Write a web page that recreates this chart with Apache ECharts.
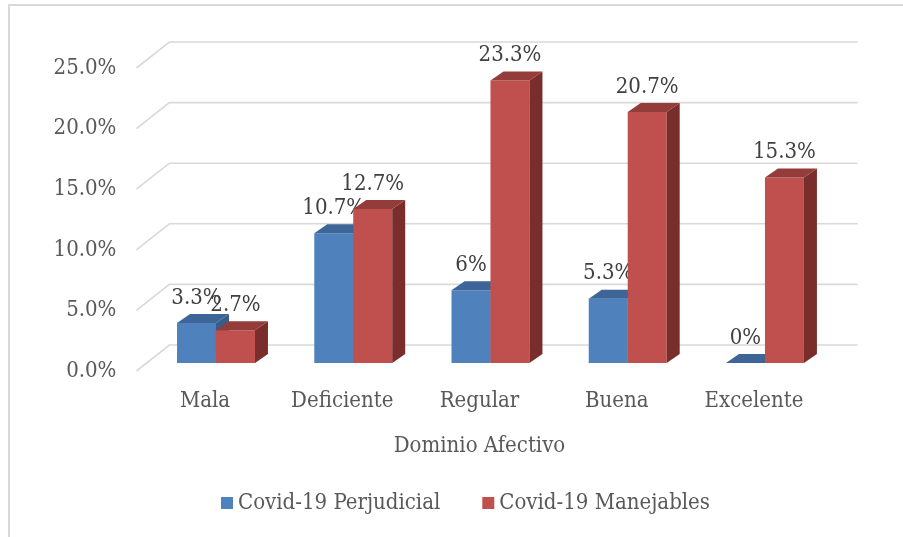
<!DOCTYPE html>
<html>
<head>
<meta charset="utf-8">
<script src="https://cdn.jsdelivr.net/npm/echarts@6/dist/echarts.min.js"></script>
<style>html,body{margin:0;padding:0;background:#fff}#c{width:903px;height:537px}</style>
</head>
<body>
<div id="c"></div>
<script>
const categories = ['Mala', 'Deficiente', 'Regular', 'Buena', 'Excelente'];
const perjudicial = [3.3, 10.7, 6, 5.3, 0];
const manejables = [2.7, 12.7, 23.3, 20.7, 15.3];
const yTicks = [0, 5, 10, 15, 20, 25];
const seriesNames = ['Covid-19 Perjudicial', 'Covid-19 Manejables'];

const FONT = '"DejaVu Serif Condensed", "DejaVu Serif", serif';
const FS = 22;
const colors = [
  { front: '#4F81BD', top: '#3D6597', side: '#385D8A' },
  { front: '#C0504D', top: '#933C3A', side: '#7A2E2C' }
];
const DX = 13, DY = -9, LIFT = 8;

function barRender(idx) {
  return function (params, api) {
    const bw = api.size([1, 0])[0];
    const barW = bw * 0.284;
    const base = api.coord([api.value(0), 0]);
    const topP = api.coord([api.value(0), api.value(1)]);
    const cx = base[0] + bw * 0.08;
    const left = idx === 0 ? cx - barW : cx;
    const right = left + barW;
    const by = base[1] - LIFT;
    const ty = topP[1] - LIFT;
    const c = colors[idx];
    const children = [];
    if (by - ty > 0.5) {
      children.push({ type: 'rect', shape: { x: left, y: ty, width: barW, height: by - ty }, style: { fill: c.front } });
      children.push({ type: 'polygon', shape: { points: [[right, ty], [right + DX, ty + DY], [right + DX, by + DY], [right, by]] }, style: { fill: c.side } });
    }
    children.push({ type: 'polygon', shape: { points: [[left, ty], [left + DX, ty + DY], [right + DX, ty + DY], [right, ty]] }, style: { fill: c.top } });
    children.push({ type: 'text', x: (left + right) / 2, y: ty - 25, style: { text: api.value(1) + '%', fill: '#404040', font: FS + 'px ' + FONT, align: 'center', verticalAlign: 'middle' } });
    return { type: 'group', children: children };
  };
}

const chart = echarts.init(document.getElementById('c'), null, { renderer: 'canvas' });
chart.setOption({
  backgroundColor: '#fff',
  animation: false,
  textStyle: { fontFamily: FONT },
  graphic: [{ type: 'rect', shape: { x: 9, y: 5, width: 1000, height: 1000 }, style: { fill: 'none', stroke: '#d9d9d9', lineWidth: 2 }, silent: true }],
  grid: { left: 136.4, right: 80.4, top: 68, bottom: 166, containLabel: false },
  xAxis: {
    type: 'category', data: categories,
    axisLine: { show: false }, axisTick: { show: false }, splitLine: { show: false },
    axisLabel: { color: '#595959', fontSize: FS, fontFamily: FONT, margin: 19 },
    name: 'Dominio Afectivo', nameLocation: 'middle', nameGap: 64,
    nameTextStyle: { color: '#595959', fontSize: FS, fontFamily: FONT }
  },
  yAxis: {
    type: 'value', min: 0, max: 25, interval: 5,
    axisLine: { show: false }, axisTick: { show: false }, splitLine: { show: false },
    axisLabel: { color: '#595959', fontSize: FS, fontFamily: FONT, margin: 20, formatter: v => v.toFixed(1) + '%' }
  },
  legend: {
    top: 487, left: 216, itemWidth: 12, itemHeight: 12, itemGap: 42,
    icon: 'rect',
    textStyle: { color: '#595959', fontSize: FS, fontFamily: FONT },
    data: seriesNames
  },
  series: [
    {
      type: 'custom', name: 'grid', silent: true, z: 1,
      data: yTicks.map(v => [0, v]),
      renderItem: function (params, api) {
        const cs = params.coordSys;
        const y = api.coord([0, api.value(1)])[1];
        return { type: 'polyline', shape: { points: [[cs.x, y], [cs.x + 33, y - 26], [cs.x + cs.width + 35, y - 26]] }, style: { stroke: '#d9d9d9', lineWidth: 1.6, fill: 'none' } };
      }
    },
    { type: 'custom', name: seriesNames[0], z: 2, itemStyle: { color: colors[0].front }, data: perjudicial.map((v, i) => [i, v]), renderItem: barRender(0) },
    { type: 'custom', name: seriesNames[1], z: 3, itemStyle: { color: colors[1].front }, data: manejables.map((v, i) => [i, v]), renderItem: barRender(1) }
  ]
});
</script>
</body>
</html>
